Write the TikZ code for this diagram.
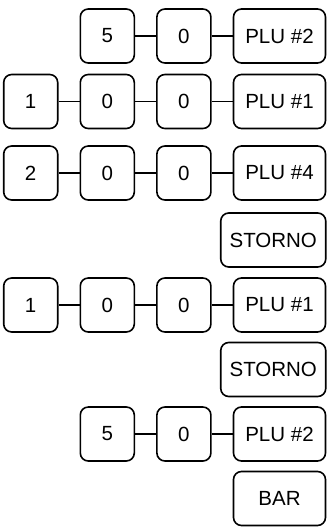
\documentclass[tikz,border=0pt]{standalone}
\usepackage{fontspec}
\setmainfont{Liberation Sans}
\usetikzlibrary{positioning}
\tikzset{
  keybox/.style={rectangle,rounded corners=8pt,draw=black,line width=1.6pt,fill=white,minimum width=54pt,minimum height=54pt,inner sep=0pt,font=\fontsize{20.5}{24}\selectfont},
  plukey/.style={keybox,minimum width=92pt},
  widekey/.style={keybox,minimum width=105pt},
  wire/.style={line width=1.6pt}
}

\begin{document}
\begin{tikzpicture}[x=1pt,y=-1pt,node distance=21pt]
    \useasboundingbox (0,0) rectangle (327,528);
    % first entry
    \node[plukey] (plua) at (279.5,36) {PLU \#2};
    \node[keybox,left=of plua] (aZero) {0};
    \node[keybox,left=of aZero] (aFive) {5};
    % second entry
    \node[plukey] (plub) at (279.5,101.5) {PLU \#1};
    \node[keybox,left=of plub] (bZeroB) {0};
    \node[keybox,left=of bZeroB] (bZeroA) {0};
    \node[keybox,left=of bZeroA] (bOne) {1};
    % third entry
    \node[plukey] (pluc) at (279.5,173) {PLU \#4};
    \node[keybox,left=of pluc] (cZeroB) {0};
    \node[keybox,left=of cZeroB] (cZeroA) {0};
    \node[keybox,left=of cZeroA] (cTwo) {2};
    \node[widekey] (stornoa) at (273.25,240) {STORNO};
    % fourth entry
    \node[plukey] (plud) at (279.5,305) {PLU \#1};
    \node[keybox,left=of plud] (dZeroB) {0};
    \node[keybox,left=of dZeroB] (dZeroA) {0};
    \node[keybox,left=of dZeroA] (dOne) {1};
    \node[widekey] (stornob) at (273.25,369.5) {STORNO};
    % fifth entry
    \node[plukey] (plue) at (279.5,434) {PLU \#2};
    \node[keybox,left=of plue] (eZero) {0};
    \node[keybox,left=of eZero] (eFive) {5};
    \node[plukey] (bar) at (279.5,498.5) {BAR};
    \draw[wire] (aFive) -- (aZero); \draw[wire] (aZero) -- (plua);
    \draw[wire] (bOne) -- (bZeroA); \draw[wire] (bZeroA) -- (bZeroB); \draw[wire] (bZeroB) -- (plub);
    \draw[wire] (cTwo) -- (cZeroA); \draw[wire] (cZeroA) -- (cZeroB); \draw[wire] (cZeroB) -- (pluc);
    \draw[wire] (dOne) -- (dZeroA); \draw[wire] (dZeroA) -- (dZeroB); \draw[wire] (dZeroB) -- (plud);
    \draw[wire] (eFive) -- (eZero); \draw[wire] (eZero) -- (plue);
  \end{tikzpicture}
\end{document}
